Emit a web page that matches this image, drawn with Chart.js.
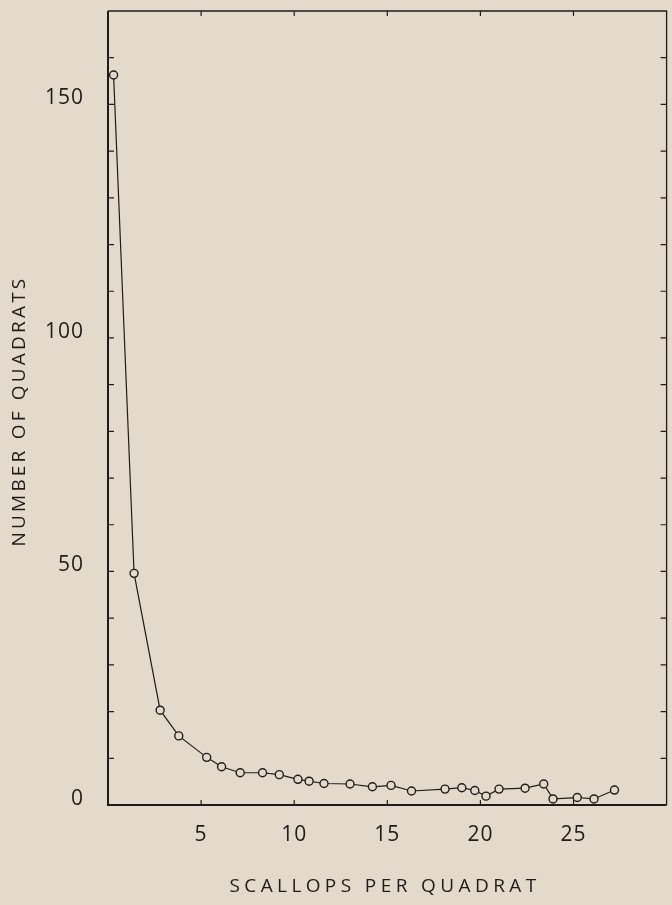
<!DOCTYPE html>
<html>
<head>
<meta charset="utf-8">
<script src="https://cdn.jsdelivr.net/npm/chart.js@4/dist/chart.umd.min.js"></script>
<style>
  html, body { margin: 0; padding: 0; background: #e4dacb; }
  #wrap { width: 672px; height: 905px; }
</style>
</head>
<body>
<div id="wrap"><canvas id="chart" width="672" height="905"></canvas></div>
<script>
// values
const scallopsPerQuadrat = [0.3, 1.4, 2.8, 3.8, 5.3, 6.1, 7.1, 8.3, 9.2, 10.2, 10.8, 11.6, 13.0, 14.2,
  15.2, 16.3, 18.1, 19.0, 19.7, 20.3, 21.0, 22.4, 23.4, 23.9, 25.2, 26.1, 27.2];
const numberOfQuadrats = [156.3, 49.6, 20.3, 14.8, 10.2, 8.2, 6.9, 6.9, 6.5, 5.5, 5.1, 4.6, 4.5, 3.9,
  4.2, 3.0, 3.4, 3.7, 3.1, 1.9, 3.4, 3.6, 4.5, 1.3, 1.6, 1.3, 3.2];

const xLabelValues = [5, 10, 15, 20, 25];
const yLabelValues = [0, 50, 100, 150];
const xTitle = 'SCALLOPS PER QUADRAT';
const yTitle = 'NUMBER OF QUADRATS';

const ink = '#211c19';
const paper = '#e4dacb';

Chart.defaults.font.family = "'Open Sans', sans-serif";
Chart.defaults.color = ink;

// frame box + inward tick marks on all four sides
const frameTicks = {
  id: 'frameTicks',
  beforeDraw(chart) {
    chart.ctx.letterSpacing = '1px';
  },
  beforeDatasetsDraw(chart) {
    const { ctx, chartArea: a, scales: { x, y } } = chart;
    ctx.save();
    ctx.strokeStyle = ink;
    ctx.lineWidth = 1.3;
    ctx.beginPath();
    ctx.moveTo(a.left, a.top); ctx.lineTo(a.right, a.top); ctx.lineTo(a.right, a.bottom);
    ctx.stroke();
    ctx.lineWidth = 2;
    ctx.beginPath();
    ctx.moveTo(a.left, a.top); ctx.lineTo(a.left, a.bottom); ctx.lineTo(a.right, a.bottom);
    ctx.stroke();
    ctx.lineWidth = 1.2;
    ctx.beginPath();
    y.ticks.forEach(t => {
      if (t.value <= y.min || t.value >= y.max) return;
      const py = y.getPixelForValue(t.value);
      ctx.moveTo(a.left, py); ctx.lineTo(a.left + 6, py);
      ctx.moveTo(a.right, py); ctx.lineTo(a.right - 6, py);
    });
    x.ticks.forEach(t => {
      if (t.value <= x.min || t.value >= x.max) return;
      const px = x.getPixelForValue(t.value);
      ctx.moveTo(px, a.bottom); ctx.lineTo(px, a.bottom - 5);
      ctx.moveTo(px, a.top); ctx.lineTo(px, a.top + 5);
    });
    ctx.stroke();
    ctx.restore();
  }
};

// spaced-out axis titles like the printed plate
const spacedTitles = {
  id: 'spacedTitles',
  afterDraw(chart) {
    const { ctx } = chart;
    ctx.save();
    ctx.fillStyle = ink;
    ctx.font = "19px 'Open Sans', sans-serif";
    ctx.letterSpacing = '4.4px';
    ctx.textAlign = 'center';
    ctx.textBaseline = 'middle';
    ctx.fillText(xTitle, 385, 887);
    ctx.letterSpacing = '3.2px';
    ctx.translate(20, 411);
    ctx.rotate(-Math.PI / 2);
    ctx.fillText(yTitle, 0, 0);
    ctx.restore();
  }
};

new Chart(document.getElementById('chart'), {
  type: 'scatter',
  data: {
    datasets: [{
      data: scallopsPerQuadrat.map((v, i) => ({ x: v, y: numberOfQuadrats[i] })),
      showLine: true,
      borderColor: ink,
      borderWidth: 1.2,
      pointRadius: 4,
      pointBorderWidth: 1.4,
      pointBorderColor: ink,
      pointBackgroundColor: paper,
      clip: false
    }]
  },
  options: {
    responsive: false,
    animation: false,
    layout: { padding: { top: 11, right: 1, left: 0, bottom: 0 } },
    plugins: { legend: { display: false }, tooltip: { enabled: false } },
    scales: {
      x: {
        type: 'linear',
        min: 0,
        max: 30,
        grid: { display: false },
        border: { display: false },
        ticks: {
          stepSize: 5,
          padding: 9,
          maxRotation: 0,
          font: { size: 21 },
          callback: v => xLabelValues.includes(v) ? String(v) : ''
        },
        afterFit: s => {
          s.height = 100;
          s.paddingLeft = 0;
          s.paddingRight = 0;
        }
      },
      y: {
        type: 'linear',
        min: 0,
        max: 170,
        grid: { display: false },
        border: { display: false },
        ticks: {
          stepSize: 10,
          padding: 16,
          labelOffset: -6,
          font: { size: 21 },
          callback: v => yLabelValues.includes(v) ? String(v) : ''
        },
        afterFit: s => {
          s.width = 108;
          s.paddingTop = 0;
          s.paddingBottom = 0;
        }
      }
    }
  },
  plugins: [frameTicks, spacedTitles]
});
</script>
</body>
</html>
